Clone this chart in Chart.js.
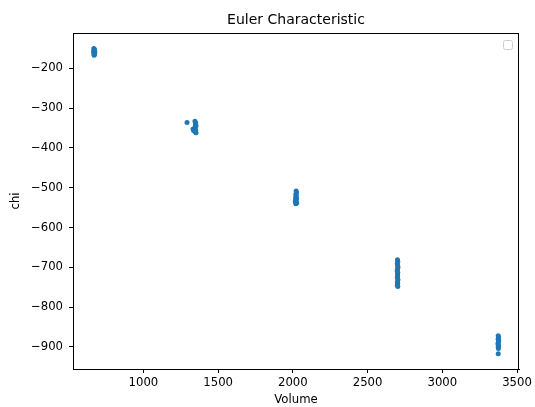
<!DOCTYPE html>
<html>
<head>
<meta charset="utf-8">
<script src="https://cdn.jsdelivr.net/npm/chart.js@4.4.0/dist/chart.umd.min.js"></script>
<style>
  html, body { margin: 0; padding: 0; background: #fff; }
  #chart { display: block; }
</style>
</head>
<body>
<canvas id="chart" width="535" height="407"></canvas>
<script>
// Data
const volume = [
    668, 672, 670, 674, 667, 671, 675, 669, 673, 670,
    1292, 1345, 1350, 1348, 1352, 1346, 1332, 1336, 1350, 1348, 1352, 1345,
    2022, 2024, 2020, 2023, 2019, 2025, 2018, 2022, 2016, 2026, 2020,
    2700, 2702, 2699, 2701, 2703, 2700, 2698, 2702, 2700, 2701, 2699, 2703, 2700, 2701, 2699, 2702,
    3374, 3376, 3373, 3377, 3375, 3372, 3376, 3374, 3375, 3374
];
const chi = [
    -150, -152, -155, -157, -158, -160, -161, -163, -165, -167,
    -336, -333, -337, -341, -345, -348, -352, -356, -355, -360, -362, -358,
    -508, -512, -516, -520, -524, -527, -530, -533, -536, -538, -540,
    -681, -686, -691, -696, -700, -705, -709, -713, -718, -722, -726, -731, -736, -740, -745, -748,
    -872, -876, -880, -884, -888, -892, -896, -900, -904, -917
];
const xTicks = [1000, 1500, 2000, 2500, 3000, 3500];
const yTicks = [-900, -800, -700, -600, -500, -400, -300, -200];

const points = volume.map((v, i) => ({ x: v, y: chi[i] }));

// Full box around the axes plus the empty legend frame (matplotlib look)
const framePlugin = {
    id: 'frame',
    afterDraw(chart) {
        const { ctx, chartArea: a } = chart;
        ctx.save();
        ctx.strokeStyle = '#000';
        ctx.lineWidth = 1;
        ctx.strokeRect(Math.round(a.left) + 0.5, Math.round(a.top) + 0.5,
            Math.round(a.right - a.left) - 1, Math.round(a.bottom - a.top));
        // empty legend box
        ctx.strokeStyle = '#cccccc';
        ctx.beginPath();
        ctx.roundRect(a.right - 15.5, a.top + 7.5, 9, 9, 2);
        ctx.stroke();
        ctx.restore();
    }
};

new Chart(document.getElementById('chart'), {
    type: 'scatter',
    data: {
        datasets: [{
            data: points,
            backgroundColor: '#1f77b4',
            borderWidth: 0,
            pointRadius: 2.5,
            pointHoverRadius: 2.5
        }]
    },
    options: {
        responsive: false,
        animation: false,
        layout: { padding: { left: 0, right: 12, top: 0, bottom: 0 } },
        plugins: {
            legend: { display: false },
            tooltip: { enabled: false },
            title: {
                display: true,
                text: 'Euler Characteristic',
                fullSize: false,
                color: '#000',
                font: { family: 'DejaVu Sans', size: 14, weight: 'normal' },
                padding: { top: 11.5, bottom: 4.7 }
            }
        },
        scales: {
            x: {
                type: 'linear',
                min: 529,
                max: 3513,
                afterBuildTicks: s => { s.ticks = xTicks.map(v => ({ value: v })); },
                afterFit: s => { s.height = 38; },
                grid: { display: true, drawOnChartArea: false, drawTicks: true, tickLength: 4, color: '#000' },
                border: { display: true, color: '#000', width: 1 },
                ticks: {
                    color: '#000',
                    padding: 3,
                    maxRotation: 0,
                    font: { family: 'DejaVu Sans', size: 11.7 },
                    callback: v => String(v)
                },
                title: {
                    display: true,
                    text: 'Volume',
                    color: '#000',
                    font: { family: 'DejaVu Sans', size: 11.7 },
                    padding: { top: 0, bottom: 0 }
                }
            },
            y: {
                type: 'linear',
                min: -955.5,
                max: -111,
                afterBuildTicks: s => { s.ticks = yTicks.map(v => ({ value: v })); },
                afterFit: s => { s.width = 73; },
                grid: { display: true, drawOnChartArea: false, drawTicks: true, tickLength: 4, color: '#000' },
                border: { display: true, color: '#000', width: 1 },
                ticks: {
                    color: '#000',
                    padding: 6,
                    font: { family: 'DejaVu Sans', size: 11.7 },
                    callback: v => String(v).replace('-', '\u2212')
                },
                title: {
                    display: true,
                    text: 'chi',
                    color: '#000',
                    font: { family: 'DejaVu Sans', size: 11.7 },
                    padding: { top: 9, bottom: 0 }
                }
            }
        }
    },
    plugins: [framePlugin]
});
</script>
</body>
</html>
